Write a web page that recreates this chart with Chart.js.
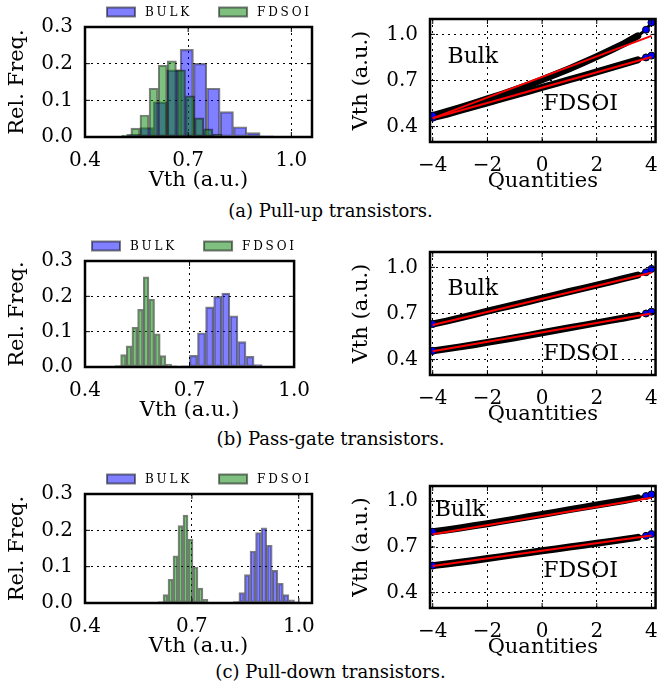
<!DOCTYPE html>
<html>
<head>
<meta charset="utf-8">
<script src="https://cdn.jsdelivr.net/npm/chart.js@4.4.1/dist/chart.umd.min.js"></script>
<style>
  html, body { margin: 0; padding: 0; background: #fff; }
  body { position: relative; width: 661px; height: 690px; overflow: hidden; }
  canvas { position: absolute; }
  .caption { position: absolute; left: 0; width: 661px; text-align: center; font-family: 'DejaVu Serif', serif; font-size: 18px; line-height: 22px; color: #000; }
</style>
</head>
<body>
<canvas id="histA" width="332" height="196" style="left:0;top:-3px"></canvas>
<canvas id="qqA" width="325" height="199" style="left:345px;top:-5px"></canvas>
<div class="caption" style="top:200px">(a) Pull-up transistors.</div>
<canvas id="histB" width="322" height="192" style="left:0;top:231px"></canvas>
<canvas id="qqB" width="325" height="199" style="left:345px;top:228px"></canvas>
<div class="caption" style="top:428px">(b) Pass-gate transistors.</div>
<canvas id="histC" width="332" height="195" style="left:0;top:464px"></canvas>
<canvas id="qqC" width="325" height="198" style="left:345px;top:462px"></canvas>
<div class="caption" style="top:661px">(c) Pull-down transistors.</div>
<script>
// histogram ticks
const histXTicks = [0.4, 0.7, 1.0];
const histYTicks = [0.0, 0.1, 0.2, 0.3];

// (a) pull-up histograms: bin centers and relative frequency
const puBulkBins = [0.5019, 0.5407, 0.5795, 0.6183, 0.6571, 0.6959, 0.7347, 0.7735, 0.8123, 0.8511, 0.8899, 0.9287];
const puBulkFreq = [0.002, 0.007, 0.026, 0.096, 0.183, 0.239, 0.201, 0.133, 0.069, 0.028, 0.012, 0.003];
const puFdsoiBins = [0.5200, 0.5465, 0.5730, 0.5995, 0.6260, 0.6525, 0.6790, 0.7055, 0.7320, 0.7585, 0.7850];
const puFdsoiFreq = [0.005, 0.024, 0.060, 0.133, 0.196, 0.208, 0.183, 0.112, 0.052, 0.022, 0.008];

// (b) pass-gate
const pgBulkBins = [0.6880, 0.7112, 0.7344, 0.7576, 0.7808, 0.8040, 0.8272, 0.8504, 0.8736, 0.8968];
const pgBulkFreq = [0.003, 0.033, 0.097, 0.170, 0.200, 0.209, 0.145, 0.072, 0.030, 0.007];
const pgFdsoiBins = [0.4940, 0.5103, 0.5265, 0.5428, 0.5590, 0.5753, 0.5915, 0.6078, 0.6240, 0.6403, 0.6565];
const pgFdsoiFreq = [0.004, 0.035, 0.060, 0.112, 0.163, 0.255, 0.192, 0.094, 0.032, 0.008, 0.003];

// (c) pull-down
const pdBulkBins = [0.8240, 0.8396, 0.8552, 0.8708, 0.8864, 0.9020, 0.9176, 0.9332, 0.9488, 0.9644, 0.9800, 0.9956];
const pdBulkFreq = [0.004, 0.029, 0.078, 0.143, 0.194, 0.207, 0.159, 0.090, 0.054, 0.023, 0.009, 0.003];
const pdFdsoiBins = [0.6120, 0.6260, 0.6400, 0.6540, 0.6680, 0.6820, 0.6960, 0.7100, 0.7240, 0.7380, 0.7520];
const pdFdsoiFreq = [0.004, 0.023, 0.065, 0.130, 0.213, 0.242, 0.176, 0.099, 0.041, 0.010, 0.002];

// QQ plots
const qqXTicks = [-4, -2, 0, 2, 4];
const qqYTicks = [0.4, 0.7, 1.0];
const qqQuantiles = [-4, -3.5, -3, -2.5, -2, -1.5, -1, -0.5, 0, 0.5, 1, 1.5, 2, 2.5, 3, 3.5, 3.8, 4];
const puBulkQQ = [0.472, 0.497, 0.523, 0.551, 0.580, 0.609, 0.639, 0.671, 0.705, 0.741, 0.777, 0.815, 0.855, 0.897, 0.940, 0.990, 1.030, 1.077];
const puFdsoiQQ = [0.458, 0.480, 0.505, 0.530, 0.555, 0.580, 0.605, 0.630, 0.655, 0.680, 0.705, 0.730, 0.756, 0.782, 0.808, 0.834, 0.850, 0.862];
const pgBulkQQ = [0.632, 0.650, 0.672, 0.693, 0.715, 0.736, 0.757, 0.778, 0.800, 0.821, 0.843, 0.864, 0.885, 0.906, 0.928, 0.950, 0.968, 0.990];
const pgFdsoiQQ = [0.457, 0.470, 0.483, 0.497, 0.512, 0.527, 0.542, 0.558, 0.575, 0.591, 0.607, 0.623, 0.639, 0.655, 0.671, 0.688, 0.700, 0.712];
const pdBulkQQ = [0.800, 0.812, 0.825, 0.839, 0.853, 0.868, 0.883, 0.898, 0.913, 0.929, 0.945, 0.960, 0.975, 0.990, 1.005, 1.022, 1.034, 1.045];
const pdFdsoiQQ = [0.578, 0.589, 0.600, 0.612, 0.625, 0.637, 0.650, 0.662, 0.675, 0.687, 0.700, 0.712, 0.725, 0.737, 0.750, 0.763, 0.773, 0.785];

// fitted lines (end points)
const fitX = [-4, 4];
const puBulkFit = [0.455, 0.990];
const puFdsoiFit = [0.455, 0.853];
const pgBulkFit = [0.625, 0.965];
const pgFdsoiFit = [0.455, 0.700];
const pdBulkFit = [0.784, 1.023];
const pdFdsoiFit = [0.575, 0.775];

Chart.defaults.font.family = "'DejaVu Serif', serif";
Chart.defaults.color = '#000';

const toPoints = (xs, ys) => xs.map((x, i) => ({x: x, y: ys[i]}));
const setTicks = (list) => (s) => { s.ticks = list.map(v => ({value: v})); };

// box around the plot area plus small inner tick marks
const framePlugin = {
  id: 'frame',
  afterDatasetsDraw(chart) {
    const {ctx, chartArea: a, scales} = chart;
    ctx.save();
    ctx.strokeStyle = '#000';
    ctx.lineWidth = 1;
    ctx.beginPath();
    scales.x.ticks.forEach(t => {
      const px = scales.x.getPixelForValue(t.value);
      ctx.moveTo(px, a.bottom); ctx.lineTo(px, a.bottom - 5);
      ctx.moveTo(px, a.top); ctx.lineTo(px, a.top + 5);
    });
    scales.y.ticks.forEach(t => {
      const py = scales.y.getPixelForValue(t.value);
      ctx.moveTo(a.left, py); ctx.lineTo(a.left + 5, py);
      ctx.moveTo(a.right, py); ctx.lineTo(a.right - 5, py);
    });
    ctx.stroke();
    ctx.lineWidth = 2.5;
    ctx.strokeRect(a.left, a.top, a.right - a.left, a.bottom - a.top);
    ctx.restore();
  }
};

// legend row above the histogram (boxes + small spaced caps)
const legendPlugin = {
  id: 'boxLegend',
  afterDraw(chart, args, opts) {
    const {ctx, chartArea: a} = chart;
    const y = a.top - 15;
    let x = a.left + (opts.offset || 0);
    ctx.save();
    ctx.font = "12px 'DejaVu Serif', serif";
    ctx.letterSpacing = '2.8px';
    ctx.textAlign = 'left';
    ctx.textBaseline = 'middle';
    chart.data.datasets.forEach(ds => {
      ctx.fillStyle = ds.backgroundColor;
      ctx.fillRect(x, y - 4.5, 28, 9);
      ctx.strokeStyle = ds.borderColor;
      ctx.lineWidth = 2;
      ctx.strokeRect(x, y - 4.5, 28, 9);
      ctx.fillStyle = '#000';
      ctx.fillText(ds.label, x + 38, y + 0.5);
      x += 38 + ctx.measureText(ds.label).width + 27;
    });
    ctx.restore();
  }
};

// "Bulk" / "FDSOI" labels inside the QQ plots
const textPlugin = {
  id: 'qqText',
  afterDatasetsDraw(chart, args, opts) {
    const {ctx, scales} = chart;
    ctx.save();
    ctx.fillStyle = '#000';
    ctx.font = "22px 'DejaVu Serif', serif";
    ctx.textAlign = 'left';
    ctx.textBaseline = 'middle';
    (opts.items || []).forEach(it => {
      ctx.fillText(it.text, scales.x.getPixelForValue(it.x), scales.y.getPixelForValue(it.y));
    });
    ctx.restore();
  }
};

const gridOpts = {color: '#000', lineWidth: 1, drawTicks: false, offset: false};
const borderOpts = {display: false, dash: [2, 4]};

const histChart = (id, bulkBins, bulkFreq, fdsoiBins, fdsoiFreq, xMax, legendOffset) => {
  const barStyle = {borderColor: 'rgba(0,0,0,0.5)', borderWidth: 1.5, borderSkipped: false,
    barPercentage: 1, categoryPercentage: 1, grouped: false};
  return new Chart(document.getElementById(id), {
    type: 'bar',
    data: {
      datasets: [
        Object.assign({label: 'BULK', data: toPoints(bulkBins, bulkFreq), xAxisID: 'x',
          backgroundColor: 'rgba(0,0,255,0.5)', order: 1}, barStyle),
        Object.assign({label: 'FDSOI', data: toPoints(fdsoiBins, fdsoiFreq), xAxisID: 'x2',
          backgroundColor: 'rgba(0,128,0,0.5)', order: 0}, barStyle)
      ]
    },
    options: {
      responsive: false,
      animation: false,
      layout: {padding: {left: 0, top: 30, right: 20, bottom: 0}},
      plugins: {
        legend: {display: false},
        tooltip: {enabled: false},
        boxLegend: {offset: legendOffset}
      },
      scales: {
        x: {
          type: 'linear', min: 0.4, max: xMax, offset: false,
          grid: gridOpts, border: borderOpts,
          afterBuildTicks: setTicks(histXTicks),
          afterFit: s => { s.height = 56; },
          ticks: {padding: 12, font: {size: 20}, maxRotation: 0, callback: v => v.toFixed(1)},
          title: {display: true, text: 'Vth (a.u.)', font: {size: 21}, padding: {top: 0, bottom: 0}}
        },
        x2: {
          type: 'linear', display: false, min: 0.4, max: xMax, offset: false,
          afterBuildTicks: setTicks(histXTicks)
        },
        y: {
          min: 0, max: 0.3,
          grid: gridOpts, border: borderOpts,
          afterBuildTicks: setTicks(histYTicks),
          afterFit: s => { s.width = 85; },
          ticks: {padding: 12, font: {size: 20}, callback: v => v.toFixed(1)},
          title: {display: true, text: 'Rel. Freq.', font: {size: 21}, padding: {top: 5, bottom: 0}}
        }
      }
    },
    plugins: [framePlugin, legendPlugin]
  });
};

const qqChart = (id, bulkQQ, fdsoiQQ, bulkFit, fdsoiFit, labels) => {
  const dotStyle = {showLine: true, borderColor: '#000', borderWidth: 7, borderCapStyle: 'round',
    borderJoinStyle: 'round', pointBackgroundColor: '#0000ff', pointBorderColor: '#000',
    pointBorderWidth: 1, pointRadius: c => (c.raw && (c.raw.x <= -3.9 || c.raw.x >= 3.7)) ? 3.5 : 0,
    segment: {borderWidth: c => c.p0.parsed.x >= 3.5 ? 3 : 7},
    order: 2};
  const fitStyle = {showLine: true, borderColor: '#ff0000', borderWidth: 2, pointRadius: 0, order: 0};
  return new Chart(document.getElementById(id), {
    type: 'scatter',
    data: {
      datasets: [
        Object.assign({label: 'Bulk', data: toPoints(qqQuantiles, bulkQQ)}, dotStyle),
        Object.assign({label: 'FDSOI', data: toPoints(qqQuantiles, fdsoiQQ)}, dotStyle),
        Object.assign({label: 'Bulk fit', data: toPoints(fitX, bulkFit)}, fitStyle),
        Object.assign({label: 'FDSOI fit', data: toPoints(fitX, fdsoiFit)}, fitStyle)
      ]
    },
    options: {
      responsive: false,
      animation: false,
      layout: {padding: {left: 0, top: 20, right: 10, bottom: 0}},
      plugins: {
        legend: {display: false},
        tooltip: {enabled: false},
        qqText: {items: labels}
      },
      scales: {
        x: {
          type: 'linear', min: -4.1, max: 4.15,
          grid: gridOpts, border: borderOpts,
          afterBuildTicks: setTicks(qqXTicks),
          afterFit: s => { s.height = 52; },
          ticks: {padding: 12, font: {size: 20}, maxRotation: 0,
            callback: v => (v < 0 ? '\u2212' : '') + Math.abs(v)},
          title: {display: true, text: 'Quantities', font: {size: 21}, padding: {top: 0, bottom: 0}}
        },
        y: {
          min: 0.3, max: 1.1,
          grid: gridOpts, border: borderOpts,
          afterBuildTicks: setTicks(qqYTicks),
          afterFit: s => { s.width = 85; },
          ticks: {padding: 12, font: {size: 20}, callback: v => v.toFixed(1)},
          title: {display: true, text: 'Vth (a.u.)', font: {size: 21}, padding: {top: 4, bottom: 0}}
        }
      }
    },
    plugins: [framePlugin, textPlugin]
  });
};

histChart('histA', puBulkBins, puBulkFreq, puFdsoiBins, puFdsoiFreq, 1.06, 22);
histChart('histB', pgBulkBins, pgBulkFreq, pgFdsoiBins, pgFdsoiFreq, 1.0, 7);
histChart('histC', pdBulkBins, pdBulkFreq, pdFdsoiBins, pdFdsoiFreq, 1.037, 22);

qqChart('qqA', puBulkQQ, puFdsoiQQ, puBulkFit, puFdsoiFit,
  [{text: 'Bulk', x: -3.46, y: 0.853}, {text: 'FDSOI', x: 0.04, y: 0.547}]);
qqChart('qqB', pgBulkQQ, pgFdsoiQQ, pgBulkFit, pgFdsoiFit,
  [{text: 'Bulk', x: -3.46, y: 0.86}, {text: 'FDSOI', x: 0.04, y: 0.435}]);
qqChart('qqC', pdBulkQQ, pdFdsoiQQ, pdBulkFit, pdFdsoiFit,
  [{text: 'Bulk', x: -3.93, y: 0.943}, {text: 'FDSOI', x: 0.04, y: 0.541}]);
</script>
</body>
</html>
